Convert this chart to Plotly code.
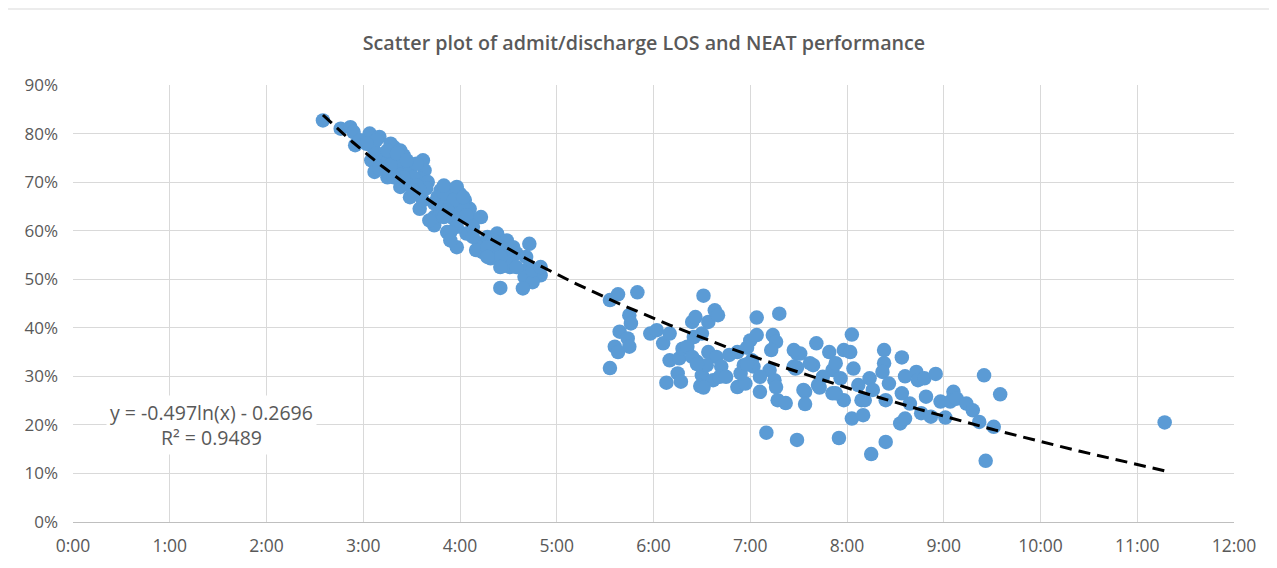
import plotly.graph_objects as go
import numpy as np

# Length of stay (minutes) for each point
los_minutes = [
    155, 166, 172, 174, 175, 184, 190, 186, 199, 205, 185, 187, 195, 193, 201, 209, 217, 218, 215, 203,
    209, 215, 220, 219, 228, 234, 240, 243, 246, 224, 224, 232, 236, 240, 246, 253, 244, 238, 252, 254,
    259, 263, 269, 273, 269, 271, 283, 281, 283, 280, 290, 285, 279, 265, 193, 199, 203, 209, 211, 207,
    213, 215, 226, 232, 238, 242, 244, 248, 221, 228, 230, 257, 261, 265, 263, 271, 275, 285, 188, 197,
    203, 178, 213, 197, 190, 236, 232, 238, 234, 265, 275, 290, 250,
    182, 188, 195, 201, 207, 205, 199, 211, 217, 224, 230, 238, 242, 230, 234, 248, 257, 265, 257,
    333, 338, 350, 345, 346, 339, 344, 345, 336, 338, 333, 358, 362, 366, 370, 370, 375, 377, 368, 376,
    378, 384, 386, 391, 394, 398, 400, 390, 385, 387, 390, 389, 397, 394, 399, 402, 407, 412, 412, 416,
    417, 421, 422, 420, 424, 424, 426, 430, 434, 436, 433, 438, 432, 435, 436, 437, 442, 449, 448, 449,
    381, 393, 401, 414, 426, 384, 418, 387, 391, 405, 418,
    447, 451, 454, 454, 459, 461, 462, 469, 471, 471, 475, 478, 478, 482, 483, 484, 483, 487, 490, 494,
    496, 491, 495, 503, 503, 502, 506, 504, 504, 514, 514, 516, 513, 516, 519, 523, 524, 526, 528, 529,
    532, 535, 538, 541, 544, 546, 548, 554, 558, 562, 565, 571, 575, 566, 457, 465, 473, 463, 476, 489,
    447, 449, 453, 473, 677,
]

# NEAT performance (%) for each point
neat_pct = [
    82.7, 81.0, 81.3, 80.3, 77.6, 80.0, 79.3, 77.2, 77.2, 75.5, 74.5, 72.1, 71.0, 73.8, 73.1, 72.1, 74.5, 72.4, 70.7, 69.0,
    66.9, 64.5, 70.0, 68.7, 68.3, 68.3, 67.6, 66.3, 64.5, 62.8, 61.1, 59.7, 62.5, 63.5, 62.5, 62.8, 59.4, 56.6, 57.3, 55.6,
    54.3, 59.4, 58.0, 56.6, 54.6, 52.5, 57.3, 54.6, 52.5, 50.5, 50.8, 49.4, 48.1, 48.2, 75.9, 74.8, 74.5, 73.1, 71.0, 69.7,
    69.3, 68.3, 66.9, 66.3, 65.6, 64.9, 63.2, 60.8, 62.1, 64.2, 67.6, 58.7, 58.0, 56.6, 55.3, 53.9, 55.3, 51.9, 78.6, 77.9,
    76.5, 78.6, 73.8, 73.5, 72.8, 66.3, 64.2, 60.8, 59.7, 54.6, 52.5, 52.5, 56.0,
    77.9, 75.9, 76.5, 75.9, 74.5, 71.0, 71.0, 68.3, 66.3, 65.6, 69.3, 69.0, 66.9, 62.8, 58.0, 58.7, 56.6, 52.5, 54.6,
    45.7, 46.9, 47.3, 42.6, 40.9, 39.2, 37.8, 36.1, 36.1, 35.0, 31.7, 38.8, 39.5, 36.8, 38.8, 33.3, 30.6, 28.9, 28.7, 33.7,
    35.7, 41.2, 42.2, 46.6, 41.2, 43.6, 42.6, 38.8, 38.1, 33.0, 30.2, 28.0, 29.2, 35.0, 34.0, 32.0, 34.4, 35.0, 27.8, 32.3,
    28.5, 33.3, 32.0, 37.4, 38.5, 42.1, 26.8, 18.4, 38.5, 37.1, 35.4, 42.9, 31.3, 29.2, 27.8, 25.1, 24.5, 34.7, 31.6, 16.9,
    36.1, 32.3, 29.9, 30.6, 29.9, 34.0, 35.9, 32.5, 27.7, 29.9, 32.5,
    32.0, 34.7, 26.8, 24.3, 32.3, 36.8, 28.2, 35.0, 31.3, 26.5, 17.3, 25.1, 35.4, 35.0, 38.6, 31.6, 21.3, 28.2, 22.0, 29.6,
    27.2, 25.1, 14.0, 35.4, 32.7, 30.9, 28.5, 25.1, 16.5, 33.9, 26.5, 30.0, 20.3, 21.3, 24.4, 30.9, 29.2, 22.4, 29.6, 25.8,
    21.7, 30.5, 24.8, 21.5, 24.8, 26.8, 25.4, 24.4, 23.0, 20.6, 30.2, 19.6, 26.3, 12.6, 32.7, 29.9, 32.7, 27.7, 29.6, 25.1,
    35.4, 31.8, 27.2, 26.5, 20.5,
]

# Logarithmic trendline coefficients shown on the chart (x in days)
trend_a = -0.497
trend_b = -0.2696
trend_label = "y = -0.497ln(x) - 0.2696<br>R² = 0.9489"

x_tick_vals = list(range(0, 13))
x_tick_text = [f"{h}:00" for h in x_tick_vals]

title_text = "Scatter plot of admit/discharge LOS and NEAT performance"

x_hours = np.array(los_minutes) / 60.0
y_frac = np.array(neat_pct) / 100.0

tx = np.linspace(x_hours.min(), x_hours.max(), 200)
ty = trend_a * np.log(tx / 24.0) + trend_b

# The page body adds an 8px offset, so the margins are compensated
W, H = 1277, 568
L, R, T, B = 65, 51, 77, 54
PW, PH = W - L - R, H - T - B

fig = go.Figure()
fig.add_trace(go.Scatter(
    x=x_hours, y=y_frac, mode="markers",
    marker=dict(size=14.5, color="#5b9bd5", line=dict(width=0)),
    showlegend=False, hoverinfo="skip"))
fig.add_trace(go.Scatter(
    x=tx, y=ty, mode="lines",
    line=dict(color="black", width=3, dash="12px,7px"),
    showlegend=False, hoverinfo="skip"))

fig.update_layout(
    width=W, height=H,
    margin=dict(l=L, r=R, t=T, b=B, autoexpand=False),
    paper_bgcolor="white", plot_bgcolor="white",
    font=dict(family="Open Sans", color="#595959"),
    title=dict(text=title_text, x=636 / W, xanchor="center", xref="container",
               y=1 - 35 / H, yanchor="middle", yref="container", automargin=False,
               font=dict(size=19.7, color="#595959", family="Open Sans", weight=600)),
    xaxis=dict(range=[0, 12], tickvals=x_tick_vals, ticktext=x_tick_text,
               showgrid=True, gridcolor="#d9d9d9", gridwidth=1,
               zeroline=False, showline=False, ticks="", automargin=False,
               tickfont=dict(size=17.5, color="#595959"), ticklabelstandoff=11),
    yaxis=dict(range=[0, 0.9], dtick=0.1, tickformat=".0%",
               showgrid=True, gridcolor="#d9d9d9", gridwidth=1,
               zeroline=True, zerolinecolor="#bfbfbf", zerolinewidth=1,
               showline=False, ticks="", automargin=False,
               tickfont=dict(size=17, color="#595959"), ticklabelstandoff=14),
    annotations=[dict(x=1.43, y=0.2, xref="x", yref="y", text=trend_label,
                      showarrow=False, align="center", bgcolor="white",
                      font=dict(size=19.5, color="#595959", family="Open Sans"),
                      borderpad=3)],
    shapes=[dict(type="line", xref="paper", yref="paper",
                 x0=-L / PW, x1=1 + R / PW,
                 y0=1 + (T - 1) / PH, y1=1 + (T - 1) / PH,
                 line=dict(color="#d9d9d9", width=1), layer="below")],
)

fig.write_html("out.html")
